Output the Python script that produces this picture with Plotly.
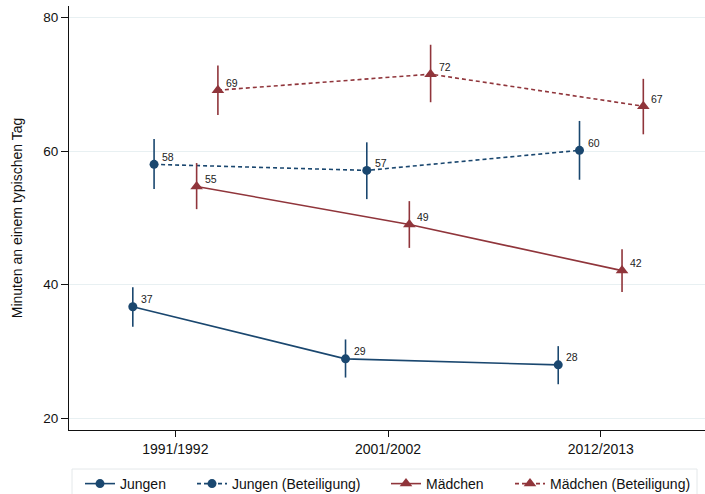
import plotly.graph_objects as go

categories = ["1991/1992", "2001/2002", "2012/2013"]

jungen = [36.7, 28.9, 28.0]
jungen_lo = [33.7, 26.1, 25.1]
jungen_hi = [39.6, 31.8, 30.8]
jungen_lbl = ["37", "29", "28"]

jungen_b = [58.0, 57.1, 60.1]
jungen_b_lo = [54.3, 52.8, 55.7]
jungen_b_hi = [61.8, 61.3, 64.5]
jungen_b_lbl = ["58", "57", "60"]

maedchen = [54.7, 49.0, 42.1]
maedchen_lo = [51.3, 45.5, 38.9]
maedchen_hi = [58.2, 52.5, 45.3]
maedchen_lbl = ["55", "49", "42"]

maedchen_b = [69.1, 71.5, 66.7]
maedchen_b_lo = [65.4, 67.3, 62.5]
maedchen_b_hi = [72.8, 75.9, 70.8]
maedchen_b_lbl = ["69", "72", "67"]

BLUE = "#1a476f"
RED = "#90353b"
FONT = "Liberation Sans, Arial, sans-serif"
W, H = 705, 494

series = [
    ("Jungen", jungen, jungen_lo, jungen_hi, jungen_lbl, -0.2, BLUE, "solid", "circle", 9, "legend", 80),
    ("Jungen (Beteiligung)", jungen_b, jungen_b_lo, jungen_b_hi, jungen_b_lbl, -0.1, BLUE, "4px,3px", "circle", 9, "legend2", 192),
    ("Mädchen", maedchen, maedchen_lo, maedchen_hi, maedchen_lbl, 0.1, RED, "solid", "triangle-up", 11, "legend3", 386),
    ("Mädchen (Beteiligung)", maedchen_b, maedchen_b_lo, maedchen_b_hi, maedchen_b_lbl, 0.2, RED, "4px,3px", "triangle-up", 11, "legend4", 510),
]

fig = go.Figure()
legends = {}
annotations = []
for name, vals, lo, hi, lbl, off, col, dash, sym, size, lg, lgx in series:
    xs = [i + 1 + off for i in range(len(categories))]
    fig.add_trace(go.Scatter(
        x=xs, y=vals, name=name, legend=lg,
        mode="lines+markers",
        line=dict(color=col, width=1.6, dash=dash),
        marker=dict(color=col, symbol=sym, size=size),
        error_y=dict(type="data", symmetric=False,
                     array=[h - v for h, v in zip(hi, vals)],
                     arrayminus=[v - l for v, l in zip(vals, lo)],
                     width=0, thickness=1.6, color=col),
    ))
    for x, y, t in zip(xs, vals, lbl):
        annotations.append(dict(x=x, y=y, text=t, showarrow=False, xanchor="left", yanchor="middle",
                                xshift=6, yshift=7.5, font=dict(size=10.5, color="#222", family=FONT)))
    legends[lg] = dict(xref="container", yref="container", x=lgx / W, xanchor="left",
                       y=(H - 484) / H, yanchor="middle", orientation="h",
                       bgcolor="rgba(0,0,0,0)", borderwidth=0,
                       font=dict(size=14, family=FONT, color="#111"))

fig.update_layout(
    width=W, height=H,
    margin=dict(l=69, r=0, t=6, b=64),
    paper_bgcolor="white", plot_bgcolor="white",
    font=dict(family=FONT, color="#111"),
    showlegend=True,
    annotations=annotations,
    xaxis=dict(range=[0.5, 3.49], tickvals=[1, 2, 3], ticktext=categories, automargin=False,
               showgrid=False, zeroline=False, showline=True, linecolor="#111", linewidth=1.2,
               ticks="outside", ticklen=6, tickcolor="#111", tickfont=dict(size=14)),
    yaxis=dict(range=[18.25, 81.7], tickvals=[20, 40, 60, 80], automargin=False,
               showgrid=True, gridcolor="#e8f0f2", gridwidth=1, zeroline=False,
               showline=True, linecolor="#111", linewidth=1.2,
               ticks="outside", ticklen=7, tickcolor="#111", tickfont=dict(size=13.5),
               title=dict(text="Minuten an einem typischen Tag", font=dict(size=14), standoff=17)),
    shapes=[dict(type="rect", xref="paper", yref="paper",
                 x0=(72 - 69) / 636, x1=(697 - 69) / 636,
                 y0=-(500 - 430) / 424, y1=-(469 - 430) / 424,
                 line=dict(color="#e4e8ea", width=1), fillcolor="rgba(0,0,0,0)")],
    **legends,
)

fig.write_html("out.html", config={"displayModeBar": False},
               post_script="document.body.style.margin='0';document.body.style.overflow='hidden';")
